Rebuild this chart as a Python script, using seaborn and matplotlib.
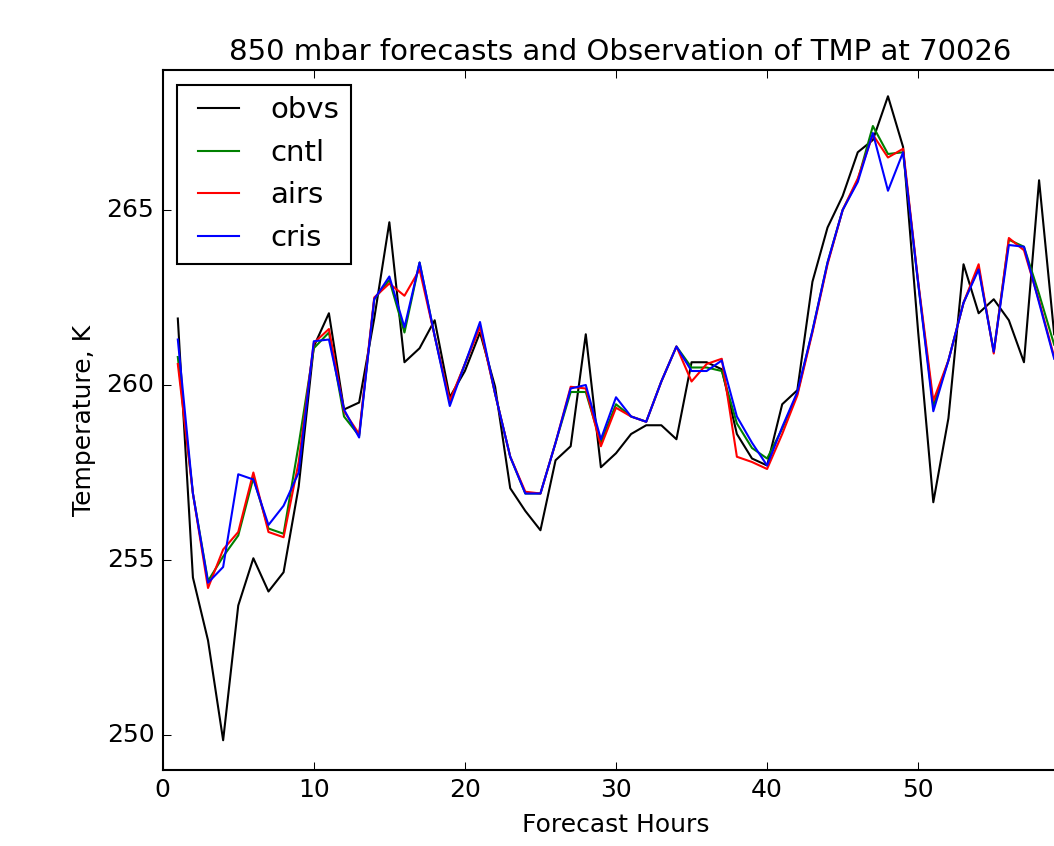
import matplotlib
matplotlib.use("Agg")
import matplotlib.pyplot as plt
import seaborn as sns
import numpy as np
import pandas as pd

hours = list(range(1, 60))

obvs = [261.9, 254.5, 252.7, 249.85, 253.7, 255.05, 254.1, 254.65, 257.1, 261.1,
        262.05, 259.3, 259.5, 261.9, 264.65, 260.65, 261.05, 261.85, 259.65, 260.4,
        261.5, 259.95, 257.05, 256.4, 255.85, 257.85, 258.25, 261.45, 257.65, 258.05,
        258.6, 258.85, 258.85, 258.45, 260.65, 260.65, 260.45, 258.6, 257.9, 257.7,
        259.45, 259.85, 262.95, 264.5, 265.4, 266.65, 267.0, 268.25, 266.8, 261.5,
        256.65, 259.05, 263.45, 262.05, 262.45, 261.85, 260.65, 265.85, 261.45]

cntl = [260.8, 256.9, 254.4, 255.1, 255.7, 257.35, 255.9, 255.75, 258.3, 261.05,
        261.5, 259.1, 258.55, 262.45, 263.0, 261.5, 263.5, 261.4, 259.5, 260.6,
        261.7, 259.75, 257.95, 256.9, 256.9, 258.35, 259.8, 259.8, 258.35, 259.45,
        259.1, 258.95, 260.1, 261.1, 260.5, 260.5, 260.4, 258.9, 258.2, 257.9,
        258.75, 259.75, 261.55, 263.5, 265.0, 265.85, 267.4, 266.6, 266.65, 262.9,
        259.4, 260.7, 262.35, 263.35, 260.95, 264.15, 263.95, 262.6, 261.15]

airs = [260.6, 256.9, 254.2, 255.3, 255.8, 257.5, 255.8, 255.65, 257.8, 261.2,
        261.6, 259.25, 258.6, 262.5, 262.9, 262.55, 263.3, 261.4, 259.55, 260.6,
        261.65, 259.75, 257.95, 256.95, 256.9, 258.35, 259.95, 259.9, 258.25, 259.35,
        259.1, 258.95, 260.1, 261.1, 260.1, 260.6, 260.75, 257.95, 257.8, 257.6,
        258.6, 259.7, 261.5, 263.45, 265.0, 265.9, 267.15, 266.5, 266.75, 262.95,
        259.55, 260.7, 262.35, 263.45, 260.9, 264.2, 263.85, 262.4, 260.8]

cris = [261.3, 256.9, 254.35, 254.8, 257.45, 257.3, 256.0, 256.55, 257.5, 261.25,
        261.3, 259.3, 258.5, 262.45, 263.1, 261.65, 263.5, 261.4, 259.4, 260.6,
        261.8, 259.75, 257.95, 256.9, 256.9, 258.35, 259.9, 260.0, 258.45, 259.65,
        259.1, 258.95, 260.1, 261.1, 260.4, 260.4, 260.7, 259.1, 258.35, 257.7,
        258.8, 259.8, 261.55, 263.5, 265.0, 265.8, 267.2, 265.55, 266.65, 262.9,
        259.25, 260.7, 262.35, 263.3, 260.95, 264.0, 263.95, 262.35, 260.75]

series_names = ["obvs", "cntl", "airs", "cris"]
series_colors = ["k", "g", "r", "b"]
x_ticks = [0, 10, 20, 30, 40, 50]
y_ticks = [250, 255, 260, 265]

plt.style.use("classic")
plt.rcParams["figure.facecolor"] = "white"
plt.rcParams["savefig.facecolor"] = "white"

W, H, DPI = 1054, 846, 150
fig = plt.figure(figsize=(W / DPI, H / DPI), dpi=DPI)
ax_left, ax_bottom = 162.7, 76.0
ax_w, ax_h = 906.6, 700.0
ax = fig.add_axes([ax_left / W, ax_bottom / H, ax_w / W, ax_h / H])

df = pd.DataFrame({"hour": hours, "obvs": obvs, "cntl": cntl, "airs": airs, "cris": cris})
for name, col in zip(series_names, series_colors):
    sns.lineplot(data=df, x="hour", y=name, color=col, linewidth=1.0,
                 label=name, ax=ax, legend=False)

ax.set_xlim(0, 60)
ax.set_ylim(249, 269)
ax.set_xticks(x_ticks)
ax.set_yticks(y_ticks)
ax.set_xlabel("Forecast Hours")
ax.set_ylabel("Temperature, K")
ax.set_title("850 mbar forecasts and Observation of TMP at 70026", fontsize=14, x=0.505)
ax.legend(loc="upper left", fontsize=14)

fig.savefig("out.png", dpi=DPI)
